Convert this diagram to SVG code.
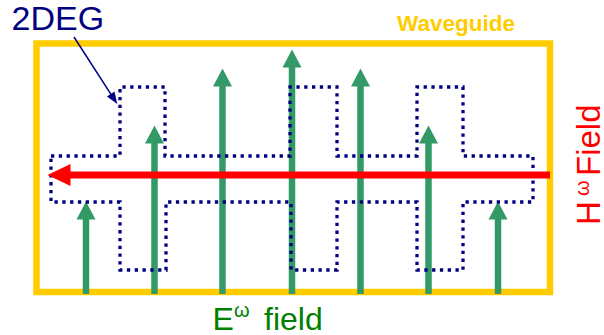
<svg xmlns="http://www.w3.org/2000/svg" width="604" height="335" viewBox="0 0 604 335">
<style>
.wg{fill:none;stroke:#FFCC00;stroke-width:6.5}
.e{stroke:#339966;stroke-width:6.5;marker-end:url(#gh)}
.deg{fill:none;stroke:#000080;stroke-width:3.3;stroke-dasharray:3.3 4.5}
.h{stroke:#FF0000;stroke-width:7;marker-end:url(#rh)}
.ptr{stroke:#000080;stroke-width:1.5;marker-end:url(#nh)}
text{font-family:"Liberation Sans",Arial,sans-serif}
</style>
<defs>
<marker id="gh" markerUnits="userSpaceOnUse" markerWidth="18" markerHeight="19" refX="0.5" refY="9.5" orient="auto" overflow="visible"><path d="M0,0 L18,9.5 L0,19 Z" fill="#339966"/></marker>
<marker id="rh" markerUnits="userSpaceOnUse" markerWidth="23" markerHeight="22" refX="0.5" refY="11" orient="auto" overflow="visible"><path d="M0,0 L23,11 L0,22 Z" fill="#FF0000"/></marker>
<marker id="nh" markerUnits="userSpaceOnUse" markerWidth="12" markerHeight="9" refX="0.5" refY="4.5" orient="auto" overflow="visible"><path d="M0,0 L12,4.5 L0,9 Z" fill="#000080"/></marker>
</defs>
<g id="waveguide">
<rect class="wg" x="36.5" y="43.5" width="513.5" height="248.5"/>
<text x="397" y="31" font-size="22.5" font-weight="bold" fill="#FFCC00">Waveguide</text>
</g>
<g id="connectors">
<g id="e-field-arrows">
<line class="e" x1="86" y1="294" x2="86" y2="219"/>
<line class="e" x1="154.5" y1="294" x2="154.5" y2="143"/>
<line class="e" x1="222.5" y1="294" x2="222.5" y2="86"/>
<line class="e" x1="292" y1="294" x2="292" y2="67"/>
<line class="e" x1="360.5" y1="294" x2="360.5" y2="86"/>
<line class="e" x1="428.5" y1="294" x2="428.5" y2="143"/>
<line class="e" x1="498" y1="294" x2="498" y2="219"/>
</g>
</g>
<g id="twodeg">
<path class="deg" d="M51,156 H120 V87 H165 V156 H290 V87 H337 V156 H417 V87 H463 V156 H533 V202 H463 V270 H417 V202 H337 V270 H291 V202 H166 V270 H120 V202 H51 Z"/>
<text x="11.5" y="30" font-size="34" fill="#000080">2DEG</text>
<line class="ptr" x1="74" y1="37" x2="111" y2="94.4"/>
</g>
<g id="h-field">
<line class="h" x1="550" y1="175" x2="70" y2="175"/>
<text transform="translate(600,225) rotate(-90)" font-size="33" fill="#FF0000">H<tspan x="29" y="-11" font-size="20">ω</tspan><tspan x="49" y="0">Field</tspan></text>
</g>
<g id="e-field-label">
<text x="212.5" y="330" font-size="32" fill="#008000">E<tspan x="234" y="316.5" font-size="20">ω</tspan><tspan x="264" y="330">field</tspan></text>
</g>
</svg>
